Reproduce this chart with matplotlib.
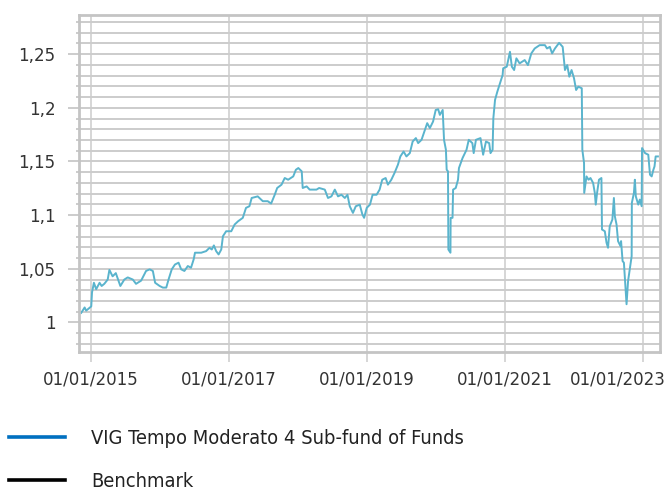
import matplotlib
matplotlib.use('Agg')
import matplotlib.pyplot as plt
import matplotlib.dates as mdates
from matplotlib.lines import Line2D
from matplotlib.ticker import MultipleLocator, FuncFormatter
from matplotlib.transforms import ScaledTranslation
import pandas as pd

plt.rcParams['font.family'] = 'DejaVu Sans'
plt.rcParams['font.stretch'] = 'condensed'

# Árfolyam (normalizált)
dates = [
    '2014-11-12', '2014-11-30', '2014-12-08', '2015-01-04', '2015-01-08', '2015-01-18',
    '2015-01-30', '2015-02-17', '2015-02-28', '2015-03-14', '2015-04-01', '2015-04-10',
    '2015-04-27', '2015-05-14', '2015-06-07', '2015-06-28', '2015-07-16', '2015-08-12',
    '2015-08-29', '2015-09-25', '2015-10-21', '2015-11-09', '2015-11-26', '2015-12-08',
    '2016-01-01', '2016-01-18', '2016-02-05', '2016-02-17', '2016-03-05', '2016-03-22',
    '2016-04-10', '2016-04-24', '2016-05-11', '2016-05-29', '2016-06-15', '2016-06-29',
    '2016-07-06', '2016-08-08', '2016-09-03', '2016-09-21', '2016-10-03', '2016-10-14',
    '2016-10-26', '2016-11-08', '2016-11-22', '2016-12-01', '2016-12-18', '2017-01-14',
    '2017-02-01', '2017-02-19', '2017-03-16', '2017-04-02', '2017-04-20', '2017-05-02',
    '2017-06-03', '2017-06-30', '2017-07-26', '2017-08-13', '2017-09-01', '2017-09-14',
    '2017-10-07', '2017-10-24', '2017-11-11', '2017-12-08', '2017-12-22', '2018-01-04',
    '2018-01-22', '2018-01-27', '2018-02-17', '2018-03-05', '2018-04-10', '2018-04-24',
    '2018-05-24', '2018-06-10', '2018-06-28', '2018-07-16', '2018-08-02', '2018-08-20',
    '2018-09-07', '2018-09-21', '2018-10-03', '2018-10-20', '2018-11-04', '2018-11-25',
    '2018-12-09', '2018-12-18', '2019-01-01', '2019-01-18', '2019-02-01', '2019-02-22',
    '2019-03-10', '2019-03-24', '2019-04-11', '2019-04-23', '2019-05-11', '2019-05-28',
    '2019-06-15', '2019-06-28', '2019-07-15', '2019-07-30', '2019-08-17', '2019-09-01',
    '2019-09-18', '2019-09-30', '2019-10-18', '2019-10-30', '2019-11-17', '2019-12-01',
    '2019-12-18', '2020-01-01', '2020-01-14', '2020-01-23', '2020-02-07', '2020-02-14',
    '2020-02-24', '2020-02-28', '2020-03-06', '2020-03-08', '2020-03-19', '2020-03-20',
    '2020-03-30', '2020-04-02', '2020-04-16', '2020-04-28', '2020-05-03', '2020-05-22',
    '2020-06-12', '2020-06-24', '2020-07-13', '2020-07-20', '2020-08-01', '2020-08-25',
    '2020-09-08', '2020-09-23', '2020-10-10', '2020-10-17', '2020-10-28', '2020-11-01',
    '2020-11-10', '2020-11-22', '2020-12-06', '2020-12-20', '2020-12-23', '2021-01-11',
    '2021-01-28', '2021-02-07', '2021-02-19', '2021-03-03', '2021-03-20', '2021-04-16',
    '2021-05-03', '2021-05-21', '2021-06-08', '2021-07-04', '2021-08-01', '2021-08-12',
    '2021-08-27', '2021-09-08', '2021-09-23', '2021-10-15', '2021-11-03', '2021-11-15',
    '2021-11-27', '2021-12-08', '2021-12-20', '2022-01-02', '2022-01-13', '2022-01-25',
    '2022-02-12', '2022-02-15', '2022-02-24', '2022-02-25', '2022-03-09', '2022-03-20',
    '2022-03-30', '2022-04-13', '2022-04-22', '2022-04-27', '2022-05-04', '2022-05-14',
    '2022-05-27', '2022-05-30', '2022-06-14', '2022-06-23', '2022-07-01', '2022-07-10',
    '2022-07-24', '2022-08-01', '2022-08-06', '2022-08-15', '2022-08-23', '2022-09-05',
    '2022-09-08', '2022-09-16', '2022-09-23', '2022-10-07', '2022-10-15', '2022-11-03',
    '2022-11-04', '2022-11-15', '2022-11-20', '2022-11-25', '2022-12-08', '2022-12-16',
    '2022-12-26', '2022-12-28', '2023-01-13', '2023-01-30', '2023-02-08', '2023-02-17',
    '2023-02-26', '2023-03-04', '2023-03-10', '2023-03-22',
]
values = [
    1.009, 1.014, 1.011, 1.015, 1.028, 1.037,
    1.031, 1.037, 1.034, 1.036, 1.040, 1.049,
    1.043, 1.046, 1.034, 1.040, 1.042, 1.040,
    1.036, 1.039, 1.048, 1.0495, 1.048, 1.037,
    1.034, 1.0325, 1.0325, 1.040, 1.0495, 1.054,
    1.0557, 1.0495, 1.048, 1.0526, 1.051, 1.0588,
    1.065, 1.065, 1.0665, 1.0696, 1.068, 1.0718,
    1.0665, 1.0634, 1.068, 1.0804, 1.085, 1.085,
    1.0913, 1.0943, 1.0975, 1.1068, 1.1083, 1.116,
    1.1175, 1.113, 1.113, 1.1108, 1.119, 1.1253,
    1.1284, 1.1346, 1.133, 1.1361, 1.1423, 1.1439,
    1.1408, 1.1253, 1.1268, 1.1238, 1.1238, 1.1253,
    1.1238, 1.116, 1.1175, 1.1238, 1.1175, 1.119,
    1.116, 1.119, 1.1083, 1.1021, 1.1083, 1.1098,
    1.1006, 1.0975, 1.1068, 1.1098, 1.119, 1.119,
    1.1238, 1.133, 1.1346, 1.1284, 1.133, 1.1393,
    1.147, 1.1547, 1.1593, 1.1547, 1.1578, 1.1686,
    1.1718, 1.1671, 1.1702, 1.1764, 1.1857, 1.1811,
    1.1872, 1.198, 1.1987, 1.1934, 1.198, 1.1702,
    1.1609, 1.1423, 1.1408, 1.068, 1.065, 1.0975,
    1.0975, 1.1238, 1.1253, 1.133, 1.1439, 1.1532,
    1.1609, 1.1702, 1.1671, 1.1578, 1.1702, 1.1718,
    1.1563, 1.1686, 1.1671, 1.1578, 1.1609, 1.1903,
    1.2074, 1.215, 1.2228, 1.2305, 1.2368, 1.2383,
    1.2522, 1.2383, 1.2352, 1.2461, 1.2414, 1.2445,
    1.2398, 1.2507, 1.2553, 1.2584, 1.2584, 1.2553,
    1.2568, 1.2507, 1.2553, 1.2605, 1.2568, 1.2352,
    1.2398, 1.229, 1.2352, 1.2275, 1.2166, 1.2197,
    1.2182, 1.1609, 1.1486, 1.1207, 1.1361, 1.133,
    1.1346, 1.13, 1.1207, 1.1098, 1.1207, 1.133,
    1.1346, 1.0866, 1.085, 1.0743, 1.0696, 1.0897,
    1.0959, 1.116, 1.099, 1.0913, 1.0758, 1.0711,
    1.0758, 1.0572, 1.0557, 1.017, 1.0386, 1.0618,
    1.1114, 1.1207, 1.133, 1.1175, 1.1098, 1.1145,
    1.1083, 1.1625, 1.1578, 1.1563, 1.1377, 1.1361,
    1.1423, 1.1454, 1.1547, 1.1547,
]
tick_dates = ['2015-01-01', '2017-01-01', '2019-01-01', '2021-01-01', '2023-01-01']
series_names = ['VIG Tempo Moderato 4 Sub-fund of Funds', 'Benchmark']
legend_colors = ['#0070c0', '#000000']

x = pd.to_datetime(dates)

fig = plt.figure(figsize=(6.67, 4.91), dpi=100)
ax = fig.add_axes([0.1184, 0.2831, 0.8711, 0.6864])

ax.plot(x, values, color='#5ab4cd', lw=1.4)

ax.set_xlim(pd.Timestamp('2014-10-31'), pd.Timestamp('2023-04-02'))
ax.set_ylim(0.9725, 1.2865)

ax.set_xticks(pd.to_datetime(tick_dates))
ax.xaxis.set_major_formatter(mdates.DateFormatter('%d/%m/%Y'))
ax.yaxis.set_major_locator(MultipleLocator(0.05))
ax.yaxis.set_minor_locator(MultipleLocator(0.01))
ax.yaxis.set_major_formatter(FuncFormatter(lambda v, p: ('%g' % round(v, 4)).replace('.', ',')))

grid_c = '#cccccc'
ax.grid(True, which='both', axis='y', color=grid_c, lw=1.4)
ax.grid(True, which='major', axis='x', color='#d6d6d6', lw=1.4)
ax.set_axisbelow(True)
for s in ax.spines.values():
    s.set_color('#c4c4c4')
    s.set_linewidth(2)

ax.tick_params(axis='y', which='major', length=8, width=1.4, color=grid_c,
               pad=9, labelcolor='#333333', labelsize=13.3)
ax.tick_params(axis='y', which='minor', length=2.5, width=1.4, color=grid_c)
ax.tick_params(axis='x', which='major', length=7.5, width=1.4, color='#d6d6d6',
               pad=6, labelcolor='#333333', labelsize=13.3)

# az utolsó dátumcímke balra tolva, hogy kiférjen
fig.canvas.draw()
last = ax.get_xticklabels()[-1]
last.set_transform(last.get_transform() + ScaledTranslation(-0.25, 0, fig.dpi_scale_trans))

handles = [Line2D([], [], color=c, lw=2.6) for c in legend_colors]
leg = fig.legend(handles, series_names, loc='upper left', bbox_to_anchor=(0.014, 0.127),
                 frameon=False, handlelength=2.8, handletextpad=1.3, labelspacing=1.2,
                 borderpad=0, borderaxespad=0, prop=dict(size=14.4))
for t in leg.get_texts():
    t.set_color('#222222')

fig.savefig('out.png', dpi=100)
